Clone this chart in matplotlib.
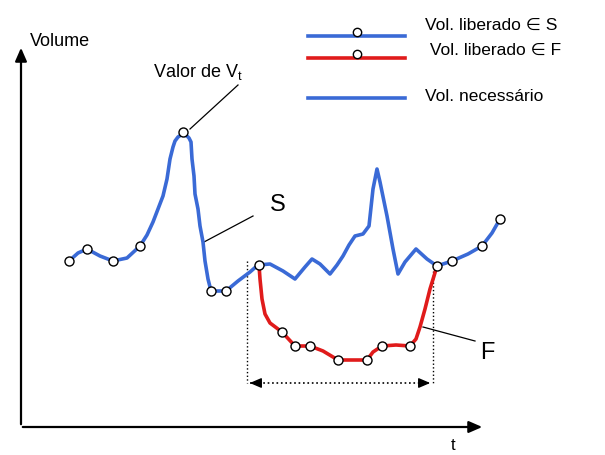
import matplotlib.pyplot as plt

plt.rcParams['font.family'] = ['Liberation Sans', 'DejaVu Sans']

# schematic drawn in picture units (x right, y down)
blue_x = [69, 78, 87, 100, 113, 127, 140, 147, 153, 158, 163, 167, 170, 173, 175, 178, 181, 184,
          187, 189, 191, 192, 194, 195, 198, 200, 203, 205, 208, 211, 226, 238, 250, 258, 270,
          283, 295, 305, 312, 320, 330, 337, 343, 349, 355, 363, 369, 373, 377, 380, 387, 393,
          398, 405, 416, 427, 437, 452, 468, 482, 492, 500]
blue_y = [262, 254, 250, 257, 262, 259, 247, 236, 223, 210, 197, 180, 160, 148, 142, 138, 136, 136,
          137, 139, 143, 160, 177, 195, 210, 227, 243, 262, 280, 292, 292, 282, 273, 266, 265,
          272, 280, 268, 260, 265, 275, 266, 257, 246, 237, 235, 227, 190, 170, 183, 217, 250,
          275, 263, 250, 260, 267, 262, 255, 247, 234, 220]
blue_mx = [69, 87, 113, 140, 183, 211, 226, 259, 437, 452, 482, 500]
blue_my = [262, 250, 262, 247, 133, 292, 292, 266, 267, 262, 247, 220]

red_x = [259, 260, 262, 265, 270, 282, 295, 310, 323, 338, 367, 373, 382, 396, 410, 416, 420,
         425, 430, 434, 437]
red_y = [266, 280, 300, 315, 324, 333, 347, 347, 352, 361, 361, 353, 347, 346, 347, 340, 328,
         310, 290, 277, 267]
red_mx = [282, 295, 310, 338, 367, 382, 410]
red_my = [333, 347, 347, 361, 361, 347, 347]

legend_labels = ['Vol. liberado \u2208 S', ' Vol. liberado \u2208 F', 'Vol. necess\u00e1rio']

blue = '#3a6ad6'
red = '#e01b1b'

fig = plt.figure(figsize=(6.05, 4.56), dpi=100)
ax = fig.add_axes([0, 0, 1, 1])
ax.set_xlim(0, 605)
ax.set_ylim(456, 0)
ax.axis('off')

# axes with arrows
ax.annotate('', xy=(21, 46), xytext=(21, 428),
            arrowprops=dict(arrowstyle='-|>,head_length=0.8,head_width=0.35', color='black', lw=1.6))
ax.annotate('', xy=(485, 428), xytext=(20, 428),
            arrowprops=dict(arrowstyle='-|>,head_length=0.8,head_width=0.35', color='black', lw=1.6))
ax.text(30, 42, 'Volume', fontsize=13, va='center', ha='left')
ax.text(453, 446, 't', fontsize=12, va='center', ha='center')

# curves
ax.plot(blue_x, blue_y, color=blue, lw=2.6, solid_joinstyle='round', zorder=3)
ax.plot(red_x, red_y, color=red, lw=2.6, solid_joinstyle='round', zorder=4)
ax.plot(blue_mx, blue_my, 'o', ms=6.5, mfc='white', mec='black', mew=1.0, zorder=5)
ax.plot(red_mx, red_my, 'o', ms=6.5, mfc='white', mec='black', mew=1.0, zorder=5)

# dotted bracket
ax.plot([247, 247], [262, 384], color='black', lw=1, ls=':')
ax.plot([433, 433], [272, 384], color='black', lw=1, ls=':')
ax.plot([250, 430], [384, 384], color='black', lw=1.2, ls=':')
ax.annotate('', xy=(247, 384), xytext=(262, 384),
            arrowprops=dict(arrowstyle='-|>,head_length=0.7,head_width=0.3', color='black', lw=1))
ax.annotate('', xy=(433, 384), xytext=(418, 384),
            arrowprops=dict(arrowstyle='-|>,head_length=0.7,head_width=0.3', color='black', lw=1))

# labels with leaders
ax.text(153, 72, 'Valor de V$_\\mathregular{t}$', fontsize=13, va='center', ha='left')
ax.plot([238, 190], [86, 130], color='black', lw=0.9)
ax.text(270, 205, 'S', fontsize=17, va='center', ha='left')
ax.plot([204, 253], [243, 217], color='black', lw=0.9)
ax.text(480, 353, 'F', fontsize=17, va='center', ha='left')
ax.plot([423, 475], [328, 342], color='black', lw=0.9)

# legend
ax.plot([308, 405], [37, 37], color=blue, lw=2.6)
ax.plot([357], [33], 'o', ms=6, mfc='white', mec='black', mew=1.0)
ax.plot([308, 405], [59, 59], color=red, lw=2.6)
ax.plot([357], [55], 'o', ms=6, mfc='white', mec='black', mew=1.0)
ax.plot([308, 405], [99, 99], color=blue, lw=2.6)
ax.text(425, 25, legend_labels[0], fontsize=12.5, va='center', ha='left')
ax.text(425, 50, legend_labels[1], fontsize=12.5, va='center', ha='left')
ax.text(425, 97, legend_labels[2], fontsize=12.5, va='center', ha='left')

fig.savefig('out.png', dpi=100)
